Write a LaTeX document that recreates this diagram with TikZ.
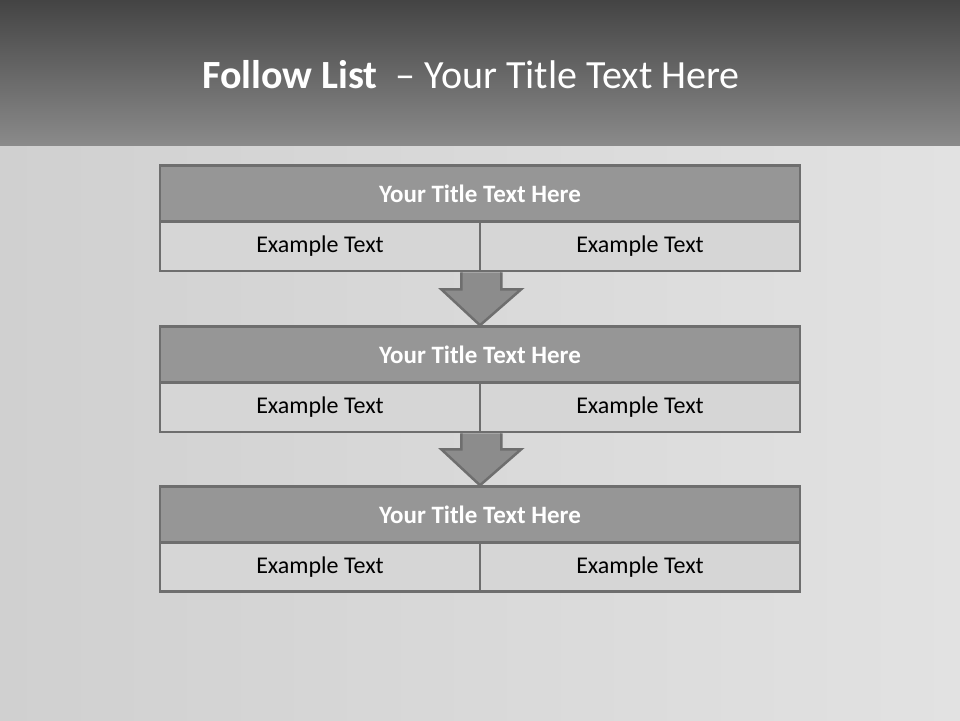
\documentclass[tikz,border=0pt]{standalone}
\usepackage{fontspec}
\setmainfont{Carlito}
\usetikzlibrary{calc}
\definecolor{bordergray}{HTML}{6E6E6E}
\definecolor{titlegray}{HTML}{969696}
\definecolor{rowgray}{HTML}{D6D6D6}
\definecolor{arrowgray}{HTML}{8C8C8C}
\definecolor{headtop}{HTML}{444444}
\definecolor{headbot}{HTML}{8A8A8A}
\definecolor{bgleft}{HTML}{D0D0D0}
\definecolor{bgright}{HTML}{E2E2E2}
\tikzset{
  titlebar/.style={draw=bordergray, line width=2.5pt, fill=titlegray, minimum width=640pt, minimum height=56pt, inner sep=0pt, text=white, font=\fontsize{25}{29}\selectfont\bfseries},
  cell/.style={draw=bordergray, line width=2.5pt, fill=rowgray, minimum width=320pt, minimum height=49pt, inner sep=0pt, text=black, font=\fontsize{24}{28}\selectfont},
  flowarrow/.style={draw=bordergray, line width=2.5pt, fill=arrowgray, line join=miter},
}
\begin{document}
\begin{tikzpicture}[x=1pt,y=-1pt]
\useasboundingbox (0,0) rectangle (960,720);
% background
\shade[left color=bgleft, right color=bgright] (0,145) rectangle (960,720);
\shade[top color=headtop, bottom color=headbot] (0,0) rectangle (960,145);
% header
\node[text=white, font=\fontsize{40}{46}\selectfont, anchor=center] (head) at (471,75) {\textbf{Follow List}\ \ – Your Title Text Here};
% block 1
\node[titlebar] (t1) at (480,193.5) {Your Title Text Here};
\node[cell] (a1) at (320,246.5) {Example Text};
\node[cell] (b1) at (640,246.5) {Example Text};
% block 2
\node[titlebar] (t2) at (480,354.5) {Your Title Text Here};
\node[cell] (a2) at (320,407.5) {Example Text};
\node[cell] (b2) at (640,407.5) {Example Text};
% block 3
\node[titlebar] (t3) at (480,514.5) {Your Title Text Here};
\node[cell] (a3) at (320,567) {Example Text};
\node[cell] (b3) at (640,567) {Example Text};
% arrows
\draw[flowarrow] ($(a1.south east)+(-20,0)$) -- ($(a1.south east)+(-20,17)$) -- ($(a1.south east)+(-40,17)$)
  -- ($(t2.north)$) -- ($(a1.south east)+(40,17)$) -- ($(a1.south east)+(20,17)$) -- ($(a1.south east)+(20,0)$);
\draw[flowarrow] ($(a2.south east)+(-20,0)$) -- ($(a2.south east)+(-20,16)$) -- ($(a2.south east)+(-40,16)$)
  -- ($(t3.north)$) -- ($(a2.south east)+(40,16)$) -- ($(a2.south east)+(20,16)$) -- ($(a2.south east)+(20,0)$);
\end{tikzpicture}
\end{document}
